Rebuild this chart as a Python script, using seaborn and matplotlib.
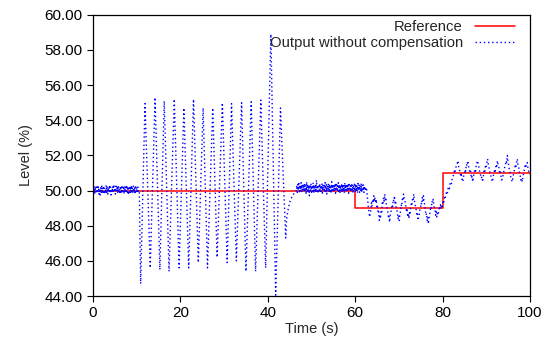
import numpy as np
import pandas as pd
import matplotlib
matplotlib.use("Agg")
import matplotlib.pyplot as plt
import seaborn as sns

# reference set-point (step values)
ref_time = [0, 60, 80, 100]
ref_level = [50.0, 49.0, 51.0, 51.0]

# output without compensation
# 0 - 10.5 s : noisy band around 50
noise_start_level = [50.15, 49.85, 50.25, 49.8, 50.1, 49.9, 50.3, 49.85, 50.2, 49.95,
                     50.25, 49.8, 50.1, 49.75, 50.2, 49.9, 50.3, 49.85, 50.15, 49.9,
                     50.25, 49.8, 50.05, 49.85, 50.3, 49.9, 50.2, 49.8, 50.15, 49.95,
                     50.3, 49.85, 50.2, 49.75, 50.1, 49.9, 50.25, 49.85, 50.35, 49.9,
                     50.15, 49.8, 50.25, 49.95, 50.2, 49.85, 50.3, 49.9, 50.1, 49.8,
                     50.25, 49.9, 50.2, 49.85, 50.3, 49.95, 50.15, 49.8, 50.25, 49.9,
                     50.2, 49.85, 50.3, 49.9, 50.1, 49.75, 50.25, 49.9, 50.2, 49.85,
                     50.3, 49.95, 50.15, 49.85, 50.25, 49.9, 50.2, 49.8, 50.3, 49.9,
                     50.15, 49.85, 50.2, 49.95, 50.0]
noise_start_time = np.linspace(0, 10.5, len(noise_start_level))

# 10.5 - 46 s : large oscillation peaks and troughs, then recovery
osc_time = [10.6, 10.9, 11.9, 13.1, 14.2, 15.3, 16.3, 17.4, 18.6, 19.7, 20.8, 21.9,
            23.0, 24.1, 25.2, 26.2, 27.4, 28.4, 29.6, 30.7, 31.7, 32.8, 34.0, 35.0,
            36.2, 37.2, 38.4, 39.5, 40.7, 41.8, 42.9, 44.1, 44.3, 44.7, 45.1, 45.6, 46.2]
osc_level = [50.0, 44.7, 54.95, 45.6, 55.3, 45.5, 55.1, 45.4, 55.2, 45.6, 54.7, 45.6,
             55.2, 45.9, 54.7, 45.6, 54.7, 46.2, 55.0, 45.9, 54.95, 46.0, 55.0, 45.4,
             55.05, 45.4, 55.15, 45.6, 58.9, 44.05, 54.7, 47.3, 48.4, 49.0, 49.4, 49.7, 49.9]

# 46.5 - 62.5 s : noisy band around 50.1
noise_mid_level = [50.0, 50.3, 49.9, 50.35, 50.0, 50.4, 49.85, 50.3, 49.95, 50.45,
                   49.9, 50.3, 50.0, 50.35, 49.95, 50.4, 49.9, 50.3, 49.85, 50.5,
                   49.95, 50.35, 49.9, 50.3, 49.7, 50.35, 50.0, 50.4, 49.9, 50.3,
                   49.95, 50.45, 49.85, 50.3, 50.0, 50.35, 49.9, 50.6, 49.95, 50.3,
                   49.85, 50.35, 50.0, 50.4, 49.9, 50.3, 49.95, 50.4, 49.85, 50.35,
                   50.0, 50.3, 49.9, 50.45, 49.95, 50.35, 49.8, 50.3, 50.0, 50.4,
                   49.9, 50.35, 49.95, 50.3, 49.85, 50.5, 50.0, 50.35, 49.9, 50.3,
                   49.95, 50.4, 49.85, 50.35, 50.0, 50.3, 49.9, 50.45, 49.95, 50.35,
                   49.85, 50.3, 50.0, 50.4, 49.9, 50.35, 49.95, 50.3, 49.85, 50.45,
                   50.0, 50.35, 49.9, 50.3, 49.95, 50.4, 49.85, 50.35, 50.0, 50.3,
                   49.9, 50.4, 49.95, 50.35, 49.85, 50.3, 50.0, 50.45, 49.9, 50.35,
                   49.95, 50.3, 49.85, 50.4, 50.0, 50.35, 49.9, 50.3, 49.95, 50.4,
                   49.9, 50.3, 49.95, 50.35, 49.9, 50.25, 50.0, 50.2, 50.0]
noise_mid_time = np.linspace(46.5, 62.5, len(noise_mid_level))

# 62.6 - 79.6 s : oscillation around 49
low_level = [50.1, 49.7, 49.4, 49.0, 48.8, 48.5, 48.7,
             48.9, 49.3, 49.1, 49.5, 49.3, 49.7, 49.4, 49.6,
             49.3, 49.5, 49.0, 49.1, 48.7, 48.8, 48.3, 48.6,
             48.5, 48.9, 48.8, 49.3, 49.2, 49.6, 49.4, 49.8,
             49.4, 49.5, 49.1, 49.0, 48.8, 48.5, 48.6, 48.2,
             48.6, 48.7, 49.0, 49.2, 49.1, 49.5, 49.4, 49.7,
             49.3, 49.4, 49.0, 48.9, 48.7, 48.4, 48.6, 48.3,
             48.7, 48.8, 49.2, 49.1, 49.5, 49.4, 49.8, 49.6,
             49.5, 49.2, 49.1, 48.8, 48.9, 48.5, 48.7, 48.4,
             48.8, 48.7, 49.1, 49.3, 49.2, 49.6, 49.5, 49.8,
             49.4, 49.3, 49.0, 48.9, 48.6, 48.7, 48.3, 48.5,
             48.6, 48.9, 49.0, 49.3, 49.2, 49.6, 49.4, 49.7,
             49.3, 49.2, 48.9, 48.6, 48.7, 48.3, 48.5, 48.1,
             48.4, 48.6, 48.8, 49.1, 49.0, 49.4, 49.3, 49.5,
             49.2, 49.0, 48.9, 48.6, 48.8, 48.5, 48.7, 48.6,
             48.8, 49.0, 48.9, 49.2]
low_time = np.linspace(62.6, 79.5, len(low_level))

# 79.6 - 100 s : rise and oscillation around 51
high_level = [49.0, 49.2, 49.1, 49.4, 49.3, 49.6, 49.5, 49.8, 49.9, 49.8, 50.1, 50.2,
              50.1, 50.4, 50.5, 50.4, 50.7, 50.8, 50.9, 51.1, 51.0, 51.3, 51.4, 51.5, 51.7,
              51.4, 51.2, 51.1, 50.8, 50.9, 50.6, 50.5,
              50.8, 50.9, 51.2, 51.1, 51.5, 51.4, 51.7,
              51.4, 51.2, 51.0, 51.1, 50.7, 50.8, 50.5,
              50.8, 51.0, 51.2, 51.1, 51.5, 51.6, 51.7,
              51.4, 51.3, 51.0, 50.9, 50.7, 50.8, 50.5,
              50.8, 51.1, 51.0, 51.4, 51.3, 51.6, 51.8,
              51.5, 51.3, 51.1, 50.9, 50.8, 50.6, 50.5,
              50.8, 51.0, 51.2, 51.1, 51.5, 51.4, 51.7,
              51.4, 51.3, 51.0, 51.1, 50.8, 50.6, 50.7,
              50.9, 51.1, 51.3, 51.4, 51.7, 51.6, 52.0,
              51.6, 51.4, 51.1, 51.0, 50.7, 50.6, 50.5,
              50.8, 51.0, 51.2, 51.4, 51.3, 51.6, 51.8,
              51.4, 51.3, 51.0, 50.9, 50.6, 50.7, 50.5,
              50.8, 51.0, 51.2, 51.4, 51.3, 51.5, 51.6,
              51.3, 51.1, 51.0, 50.9]
high_time = np.linspace(79.6, 100, len(high_level))

out_time = np.concatenate([noise_start_time, osc_time, noise_mid_time, low_time, high_time])
out_level = np.concatenate([noise_start_level, osc_level, noise_mid_level, low_level, high_level])

ref_df = pd.DataFrame({"time": ref_time, "level": ref_level})
out_df = pd.DataFrame({"time": out_time, "level": out_level})

sns.set_style("white")
plt.rcParams["font.family"] = ["Liberation Sans", "DejaVu Sans"]

fig = plt.figure(figsize=(5.47, 3.45), dpi=100)
ax = fig.add_axes([0.170, 0.142, 0.799, 0.815])

sns.lineplot(data=ref_df, x="time", y="level", ax=ax, color="#ff0000", lw=1.1,
             drawstyle="steps-post", label="Reference", sort=False, estimator=None)
sns.lineplot(data=out_df, x="time", y="level", ax=ax, color="#0000ff", lw=1.0,
             linestyle=(0, (1, 2)), label="Output without compensation",
             sort=False, estimator=None)

ax.set_xlim(0, 100)
ax.set_ylim(44, 60)
ax.set_xticks([0, 20, 40, 60, 80, 100])
ax.set_yticks(np.arange(44, 60.1, 2))
ax.yaxis.set_major_formatter(matplotlib.ticker.FormatStrFormatter("%.2f"))
ax.tick_params(axis="both", direction="out", length=4, width=0.8, labelsize=11,
               colors="black", bottom=True, left=True)
for s in ax.spines.values():
    s.set_color("black")
    s.set_linewidth(0.9)

ax.set_xlabel("Time (s)", fontsize=10.5, labelpad=1)
ax.set_ylabel("Level (%)", fontsize=10.5, labelpad=8)

leg = ax.legend(loc="upper right", bbox_to_anchor=(0.979, 1.002), frameon=False,
                markerfirst=False, fontsize=10.7, handlelength=2.7,
                handletextpad=0.8, borderaxespad=0.0, labelspacing=0.15)
for t in leg.get_texts():
    t.set_ha("right")

fig.savefig("out.png", dpi=100)
